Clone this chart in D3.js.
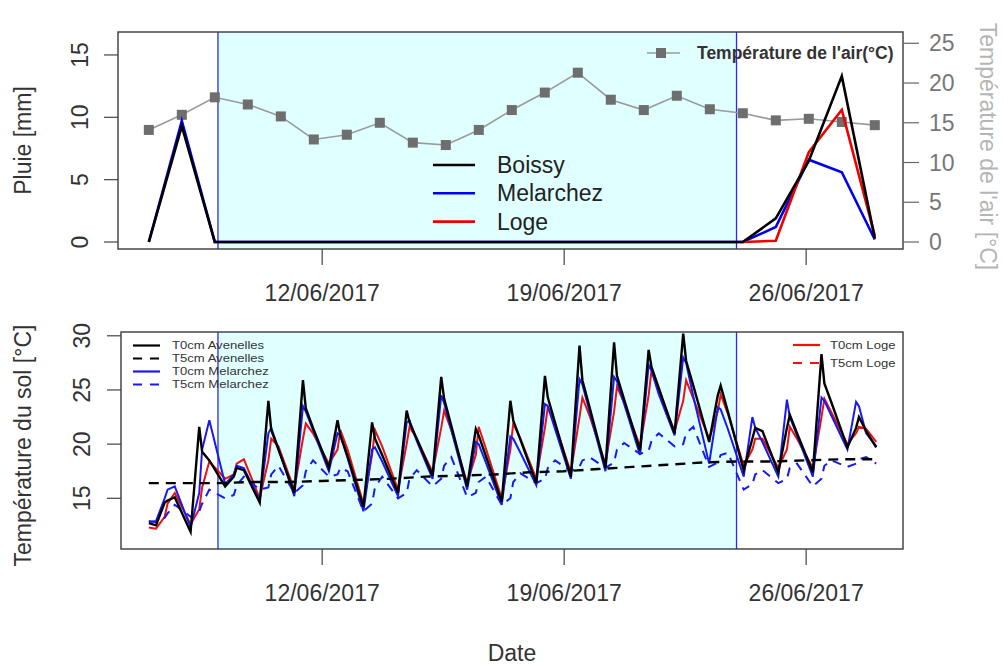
<!DOCTYPE html>
<html><head><meta charset="utf-8">
<script src="https://cdn.jsdelivr.net/npm/d3@7"></script>
<style>
body{margin:0;background:#fff}
text{font-family:"Liberation Sans",Arial,sans-serif}
</style>
</head><body>
<svg id="c" width="1003" height="668"></svg>
<script>
// ---------- DATA ----------
// Top panel: daily records (23 points)
const rainDays = ["06/06","07/06","08/06","09/06","10/06","11/06","12/06","13/06","14/06","15/06","16/06","17/06",
  "18/06","19/06","20/06","21/06","22/06","23/06","24/06","25/06","26/06","27/06","28/06"];
const rainBoissy    = [0, 9.3, 0, 0,0,0,0,0,0,0,0,0,0,0,0,0,0,0, 0, 1.9, 6.5, 13.3, 0.3];
const rainMelarchez = [0, 9.7, 0, 0,0,0,0,0,0,0,0,0,0,0,0,0,0,0, 0, 1.2, 6.6, 5.6, 0.2];
const rainLoge      = [null,null,null,null,null,null,null,null,null,null,null,null,null,null,null,null,null,null, 0, 0.1, 7.2, 10.6, 0.5];
const airTemp = [14.1, 16.0, 18.2, 17.3, 15.8, 12.9, 13.5, 15.0, 12.5, 12.2, 14.1, 16.6, 18.8, 21.3, 17.9, 16.6, 18.4, 16.7, 16.2, 15.3, 15.5, 15.1, 14.7];
const rainSeries = ["Boissy","Melarchez","Loge"];
const rainColors = ["#000000","#0000ee","#ee0000"];

const dateTicks = ["2017-06-12","2017-06-19","2017-06-26"];
const wetPeriod = ["2017-06-09T00:00","2017-06-24T00:00"];
const leftTicksTop = [0,5,10,15];
const rightTicksTop = [0,5,10,15,20,25];
const soilTicks = [15,20,25,30];

// Bottom panel: soil temperature, sampled at 05h, 11h, 13h, 18h each day
const soilDays = ["2017-06-07","2017-06-08","2017-06-09","2017-06-10","2017-06-11","2017-06-12","2017-06-13",
  "2017-06-14","2017-06-15","2017-06-16","2017-06-17","2017-06-18","2017-06-19","2017-06-20","2017-06-21",
  "2017-06-22","2017-06-23","2017-06-24","2017-06-25","2017-06-26","2017-06-27"];
const soilHours = ["05:00","11:00","13:00","18:00"];
const soilStart = "2017-06-07T00:00", soilEnd = "2017-06-28T01:00";

const t0Avenelles = [12.7,
  12.5,14.6,14.8,15.1, 11.9,21.6,19.3,18.5, 16.1,17.0,17.8,17.6, 14.6,24.0,21.3,19.5, 15.5,25.9,23.3,21.5,
  17.8,22.2,20.8,18.9, 14.2,22.0,20.5,19.0, 15.5,23.1,22.0,20.5, 17.1,26.2,24.2,21.7, 16.1,21.4,20.8,18.9,
  14.7,24.0,22.2,20.4, 16.4,26.3,24.3,22.0, 17.0,29.1,25.9,23.4, 17.8,29.4,26.3,24.1, 19.4,28.7,27.1,25.2,
  21.0,30.2,27.7,25.4, 20.2,24.5,25.4,23.0, 17.6,20.5,21.5,21.2, 17.4,21.5,22.7,21.0, 17.4,28.3,25.6,23.8,
  19.7,21.5,22.5,21.2,
  19.7];
const t0Melarchez = [12.8,
  12.9,15.0,15.8,16.1, 12.3,15.5,19.5,22.2, 16.3,17.2,18.0,17.8, 14.8,21.0,21.5,19.6, 15.2,23.5,23.0,21.3,
  17.5,21.0,20.8,18.7, 13.8,19.5,19.7,18.4, 15.2,22.0,22.2,20.3, 16.8,24.5,23.8,21.3, 15.8,20.2,20.0,18.3,
  14.4,20.7,20.5,19.2, 16.2,23.7,23.5,21.4, 16.8,26.0,25.5,23.0, 17.5,26.2,25.8,23.7, 19.0,27.3,26.8,24.6,
  20.8,28.0,27.5,24.4, 18.2,23.4,23.2,21.4, 17.0,22.5,21.5,20.2, 17.0,24.1,22.5,20.8, 17.0,24.3,24.0,22.6,
  19.5,23.9,23.5,21.0,
  19.8];
const t0Loge = [12.3,
  12.2,13.3,14.5,15.5, 12.6,14.0,16.0,18.4, 16.8,17.2,18.2,18.6, 15.0,18.5,20.5,19.8, 15.8,20.5,21.9,21.0,
  18.2,19.5,21.3,19.5, 14.5,19.0,21.3,19.8, 15.8,20.0,21.6,20.5, 17.4,21.5,23.1,21.3, 16.4,19.0,21.6,19.6,
  15.0,19.5,21.9,20.5, 16.8,21.5,23.4,21.8, 17.4,22.5,24.3,22.6, 18.2,23.0,25.3,23.8, 19.8,24.5,26.8,24.8,
  21.2,24.0,25.9,24.2, 20.5,23.0,24.6,22.8, 18.0,19.5,20.5,20.5, 17.8,19.5,21.6,20.5, 17.8,22.5,24.2,22.9,
  20.0,21.0,21.6,21.4,
  20.2];
const t5Melarchez = [12.9,
  12.8,13.2,13.6,14.4, 13.3,13.8,14.5,15.8, 15.0,15.3,16.2,17.0, 15.8,16.0,17.2,18.0, 15.5,16.2,17.5,18.5,
  17.0,17.2,17.8,17.5, 13.8,14.5,16.0,17.0, 15.0,15.5,16.8,17.6, 16.1,16.8,18.0,18.8, 15.1,15.5,16.5,17.0,
  14.4,15.0,16.5,17.3, 16.4,16.8,17.8,18.5, 17.5,17.9,18.5,18.8, 17.8,18.3,19.5,20.1, 19.1,19.4,20.3,21.0,
  19.8,20.0,21.0,21.6, 17.9,18.3,19.0,19.2, 15.8,16.3,17.2,17.6, 16.4,16.8,17.8,18.2, 16.1,16.8,18.0,18.5,
  17.9,18.2,18.6,18.8,
  18.2];
// T5cm Avenelles: daily values at 00h, 07/06 .. 28/06
const t5AvenellesDays = ["2017-06-07","2017-06-08","2017-06-09","2017-06-10","2017-06-11","2017-06-12","2017-06-13",
  "2017-06-14","2017-06-15","2017-06-16","2017-06-17","2017-06-18","2017-06-19","2017-06-20","2017-06-21",
  "2017-06-22","2017-06-23","2017-06-24","2017-06-25","2017-06-26","2017-06-27","2017-06-28"];
const t5Avenelles = [16.4,16.4,16.4,16.5,16.5,16.6,16.7,16.8,17.0,17.1,17.2,17.4,17.5,17.7,17.9,18.1,18.3,18.4,18.4,18.5,18.6,18.6];

// ---------- DRAWING ----------
(function(){
const svg = d3.select("#c");
const parse = s => new Date(s);
const soilTimes = [parse(soilStart)];
soilDays.forEach(d => soilHours.forEach(h => soilTimes.push(parse(d + "T" + h))));
soilTimes.push(parse(soilEnd));

const x = d3.scaleTime()
  .domain([new Date(2017,5,6,2,36), new Date(2017,5,28,19,35)])
  .range([118, 903]);

const pTop = {l:118, r:903, t:32, b:249};
const pBot = {l:121, r:903, t:332, b:549};

const yRain = d3.scaleLinear().domain([-0.56, 16.84]).range([pTop.b, pTop.t]);
const yAir = d3.scaleLinear().domain([-0.88, 26.42]).range([pTop.b, pTop.t]);
const xDay = d3.scalePoint().domain(rainDays)
  .range([x(new Date(2017,5,7,0,0)), x(new Date(2017,5,28,0,0))]);
const ySoil = d3.scaleLinear().domain([10.32, 30.35]).range([pBot.b, pBot.t]);

const font = '"Liberation Sans",Arial,sans-serif';
const defs = svg.append("defs");
defs.append("clipPath").attr("id","clipTop").append("rect")
  .attr("x",pTop.l).attr("y",pTop.t).attr("width",pTop.r-pTop.l).attr("height",pTop.b-pTop.t);
defs.append("clipPath").attr("id","clipBot").append("rect")
  .attr("x",pBot.l).attr("y",pBot.t).attr("width",pBot.r-pBot.l).attr("height",pBot.b-pBot.t);

function panelBg(p){
  const g = svg.append("g");
  g.append("rect").attr("x",x(parse(wetPeriod[0]))).attr("y",p.t)
    .attr("width",x(parse(wetPeriod[1]))-x(parse(wetPeriod[0]))).attr("height",p.b-p.t)
    .attr("fill","#e0ffff");
  wetPeriod.forEach(w => g.append("line").attr("x1",x(parse(w))).attr("x2",x(parse(w)))
    .attr("y1",p.t).attr("y2",p.b).attr("stroke","#2a2aee").attr("stroke-width",1.3));
}
panelBg(pTop);
panelBg(pBot);

// ----- TOP PANEL -----
const gTop = svg.append("g").attr("clip-path","url(#clipTop)");
const airLine = d3.line().x((d,i)=>xDay(rainDays[i])).y(d=>yAir(d));
gTop.append("path").attr("d",airLine(airTemp)).attr("fill","none").attr("stroke","#9a9a9a").attr("stroke-width",1.6);
gTop.selectAll("rect.air").data(airTemp).join("rect").attr("class","air")
  .attr("x",(d,i)=>xDay(rainDays[i])-5).attr("y",d=>yAir(d)-5).attr("width",10).attr("height",10)
  .attr("fill","#6e6e6e");

const rainLine = d3.line().defined(d=>d!=null).x((d,i)=>xDay(rainDays[i])).y(d=>yRain(d));
const rainData = [rainBoissy, rainMelarchez, rainLoge];
[1,2,0].forEach(k=>{
  gTop.append("path").attr("d",rainLine(rainData[k])).attr("fill","none")
    .attr("stroke",rainColors[k]).attr("stroke-width",2.6).attr("stroke-linejoin","miter");
});

svg.append("rect").attr("x",pTop.l).attr("y",pTop.t).attr("width",pTop.r-pTop.l).attr("height",pTop.b-pTop.t)
  .attr("fill","none").attr("stroke","#3a3a3a").attr("stroke-width",1.4);

// left axis (rotated labels)
leftTicksTop.forEach(v=>{
  svg.append("line").attr("x1",pTop.l-14).attr("x2",pTop.l).attr("y1",yRain(v)).attr("y2",yRain(v)).attr("stroke","#444").attr("stroke-width",1.2);
  svg.append("text").attr("transform",`translate(88,${yRain(v)}) rotate(-90)`).attr("text-anchor","middle")
    .attr("font-size",23).attr("fill","#333").text(v);
});
svg.append("text").attr("transform",`translate(31,${(pTop.t+pTop.b)/2}) rotate(-90)`).attr("text-anchor","middle")
  .attr("font-size",23).attr("fill","#333").text("Pluie [mm]");

// right axis
rightTicksTop.forEach(v=>{
  svg.append("line").attr("x1",pTop.r).attr("x2",pTop.r+16).attr("y1",yAir(v)).attr("y2",yAir(v)).attr("stroke","#666").attr("stroke-width",1.2);
  svg.append("text").attr("x",929).attr("y",yAir(v)).attr("dy","0.35em").attr("font-size",23).attr("fill","#777").text(v);
});
svg.append("text").attr("transform",`translate(980,${(pTop.t+pTop.b)/2+6}) rotate(90)`).attr("text-anchor","middle")
  .attr("font-size",23).attr("fill","#b5b5b5").text("Température de l'air [°C]");

// x axis top
const xAxis = d3.axisBottom(x).tickValues(dateTicks.map(parse)).tickFormat(d3.timeFormat("%d/%m/%Y")).tickSize(16).tickPadding(20);
const gxTop = svg.append("g").attr("transform",`translate(0,${pTop.b})`).call(xAxis);
gxTop.select(".domain").remove();
gxTop.selectAll(".tick line").attr("stroke","#444").attr("stroke-width",1.2);
gxTop.selectAll(".tick text").attr("font-size",23).attr("font-family",font).attr("fill","#333");

// legends top
rainSeries.forEach((n,k)=>{
  const yy = 165 + k*28.3;
  svg.append("line").attr("x1",433).attr("x2",475).attr("y1",yy).attr("y2",yy).attr("stroke",rainColors[k]).attr("stroke-width",2.6);
  svg.append("text").attr("x",497).attr("y",yy).attr("dy","0.35em").attr("font-size",23).attr("fill","#222").text(n);
});
svg.append("line").attr("x1",647).attr("x2",680).attr("y1",53).attr("y2",53).attr("stroke","#9a9a9a").attr("stroke-width",1.6);
svg.append("rect").attr("x",656).attr("y",48).attr("width",10).attr("height",10).attr("fill","#6e6e6e");
svg.append("text").attr("x",697).attr("y",53).attr("dy","0.35em").attr("font-size",17.5).attr("font-weight","bold")
  .attr("fill","#333").text("Température de l'air(°C)");

// ----- BOTTOM PANEL -----
const gBot = svg.append("g").attr("clip-path","url(#clipBot)");
const soilLine = d3.line().x((d,i)=>x(soilTimes[i])).y(d=>ySoil(d));
gBot.append("path").attr("d",soilLine(t0Loge)).attr("fill","none").attr("stroke","#ee1111").attr("stroke-width",2);
gBot.append("path").attr("d",soilLine(t5Melarchez)).attr("fill","none").attr("stroke","#1a1aee").attr("stroke-width",2).attr("stroke-dasharray","9,7");
gBot.append("path").attr("d",soilLine(t0Melarchez)).attr("fill","none").attr("stroke","#1a1aee").attr("stroke-width",2);
const t5Line = d3.line().x((d,i)=>x(parse(t5AvenellesDays[i]+"T00:00"))).y(d=>ySoil(d));
gBot.append("path").attr("d",t5Line(t5Avenelles)).attr("fill","none").attr("stroke","#000").attr("stroke-width",2.4).attr("stroke-dasharray","10,7");
gBot.append("path").attr("d",soilLine(t0Avenelles)).attr("fill","none").attr("stroke","#000").attr("stroke-width",2.4);

svg.append("rect").attr("x",pBot.l).attr("y",pBot.t).attr("width",pBot.r-pBot.l).attr("height",pBot.b-pBot.t)
  .attr("fill","none").attr("stroke","#3a3a3a").attr("stroke-width",1.4);

soilTicks.forEach(v=>{
  svg.append("line").attr("x1",pBot.l-14).attr("x2",pBot.l).attr("y1",ySoil(v)).attr("y2",ySoil(v)).attr("stroke","#444").attr("stroke-width",1.2);
  svg.append("text").attr("transform",`translate(90,${ySoil(v)}) rotate(-90)`).attr("text-anchor","middle")
    .attr("font-size",23).attr("fill","#333").text(v);
});
svg.append("text").attr("transform",`translate(31,${(pBot.t+pBot.b)/2+5}) rotate(-90)`).attr("text-anchor","middle")
  .attr("font-size",23).attr("fill","#333").text("Température du sol [°C]");

const gxBot = svg.append("g").attr("transform",`translate(0,${pBot.b})`).call(xAxis);
gxBot.select(".domain").remove();
gxBot.selectAll(".tick line").attr("stroke","#444").attr("stroke-width",1.2);
gxBot.selectAll(".tick text").attr("font-size",23).attr("font-family",font).attr("fill","#333");
svg.append("text").attr("x",(pBot.l+pBot.r)/2).attr("y",661).attr("text-anchor","middle").attr("font-size",23).attr("fill","#333").text("Date");

// bottom legends (small text, slightly widened like the original)
const soilLegendL = [["T0cm Avenelles","#000",null],["T5cm Avenelles","#000","9,8"],["T0cm Melarchez","#1a1aee",null],["T5cm Melarchez","#1a1aee","9,8"]];
soilLegendL.forEach((e,k)=>{
  const yy = 345.5 + k*13;
  svg.append("line").attr("x1",133).attr("x2",160).attr("y1",yy).attr("y2",yy).attr("stroke",e[1]).attr("stroke-width",2.2).attr("stroke-dasharray",e[2]);
  svg.append("text").attr("transform",`translate(172,${yy}) scale(1.17,1)`).attr("dy","0.35em").attr("font-size",11.2).attr("fill","#333").text(e[0]);
});
const soilLegendR = [["T0cm Loge","#ee1111",null],["T5cm Loge","#ee1111","9,8"]];
soilLegendR.forEach((e,k)=>{
  const yy = 345 + k*18;
  svg.append("line").attr("x1",793).attr("x2",820).attr("y1",yy).attr("y2",yy).attr("stroke",e[1]).attr("stroke-width",2.2).attr("stroke-dasharray",e[2]);
  svg.append("text").attr("transform",`translate(830,${yy}) scale(1.17,1)`).attr("dy","0.35em").attr("font-size",11.2).attr("fill","#333").text(e[0]);
});
})();
</script>
</body></html>
